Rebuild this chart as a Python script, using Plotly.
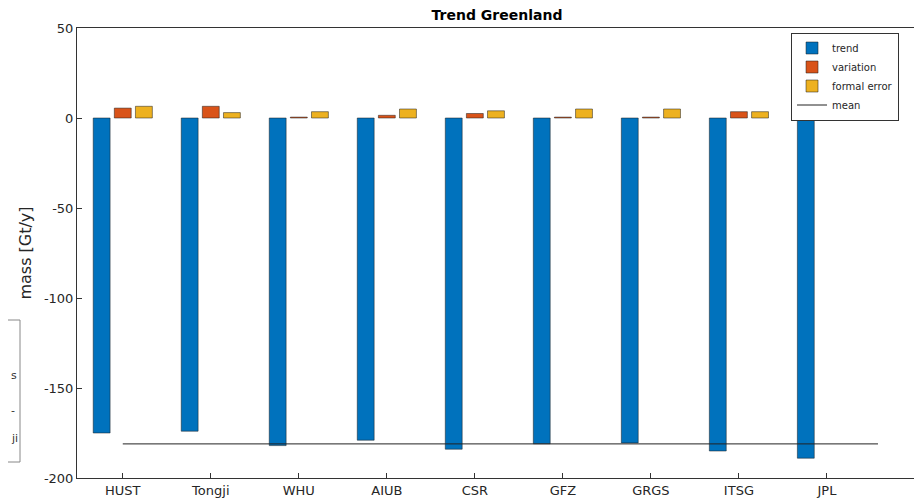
import plotly.graph_objects as go
import numpy as np

centers = ["HUST","Tongji","WHU","AIUB","CSR","GFZ","GRGS","ITSG","JPL"]
trend = [-175, -174, -182, -179, -184, -181, -180.5, -185, -189]
variation = [5.5, 6.5, 0.5, 1.5, 2.5, 0.5, 0.5, 3.5, 6]
formal_error = [6.5, 3, 3.5, 5, 4, 5, 5, 3.5, 6]
mean_x = [0, 8.58]
mean_val = float(np.mean(trend))
yticks = [-200, -150, -100, -50, 0, 50]
ytick_text = ["-200", "-150", "-100", "-50", "0", "50"]

x = list(range(len(centers)))
fig = go.Figure()
fig.add_bar(x=x, y=trend, name="trend", marker=dict(color="#0072BD", line=dict(color="#1a1a1a", width=0.5)))
fig.add_bar(x=x, y=variation, name="variation", marker=dict(color="#D95319", line=dict(color="#1a1a1a", width=0.5)))
fig.add_bar(x=x, y=formal_error, name="formal error", marker=dict(color="#EDB120", line=dict(color="#1a1a1a", width=0.5)))
fig.add_scatter(x=mean_x, y=[mean_val, mean_val], mode="lines", name="mean", line=dict(color="#222", width=1))

# fragment of neighbouring panel on the left (page pixel -> paper coords)
W = 845
L = 77
px = lambda p: (p - L) / W
yy = lambda p: (478 - p) / 450
for a, b in [((8, 320), (20, 320)), ((8, 462), (20, 462)), ((20, 320), (20, 462))]:
    fig.add_shape(type="line", xref="paper", yref="paper", x0=px(a[0]), y0=yy(a[1]), x1=px(b[0]), y1=yy(b[1]), line=dict(color="#888", width=1))
for txt, p in [("s", 375), ("-", 410), ("ji", 438)]:
    fig.add_annotation(text=txt, xref="paper", yref="paper", x=px(9), y=yy(p), xanchor="left", yanchor="middle", showarrow=False, font=dict(size=11, color="#333"))

fig.update_layout(
    width=914, height=495, margin=dict(l=69, r=0, t=20, b=25, autoexpand=False),
    paper_bgcolor="white", plot_bgcolor="white",
    barmode="group", bargap=0.28, bargroupgap=0.2,
    font=dict(family="DejaVu Sans", size=13, color="#262626"),
    title=dict(text="<b>Trend Greenland</b>", x=0.535, xanchor="center", y=0.985, yanchor="middle", font=dict(size=14, color="#000")),
    legend=dict(x=0.845, y=0.99, xanchor="left", yanchor="top", bgcolor="white", bordercolor="#333", borderwidth=1,
                font=dict(size=10), tracegroupgap=0, itemwidth=30),
    showlegend=True,
)
fig.update_xaxes(range=[-0.52, 9.08], tickvals=x, ticktext=centers, showline=True, linecolor="#333", mirror=True,
                 ticks="inside", ticklen=5, tickcolor="#333", showgrid=False, zeroline=False, automargin=False)
fig.update_yaxes(range=[-200, 50], tickvals=yticks, ticktext=ytick_text, showline=True, linecolor="#333", mirror=True,
                 ticks="inside", ticklen=5, tickcolor="#333", showgrid=False, zeroline=False, automargin=False,
                 title=dict(text="mass [Gt/y]", standoff=8))
fig.write_html("out.html")
